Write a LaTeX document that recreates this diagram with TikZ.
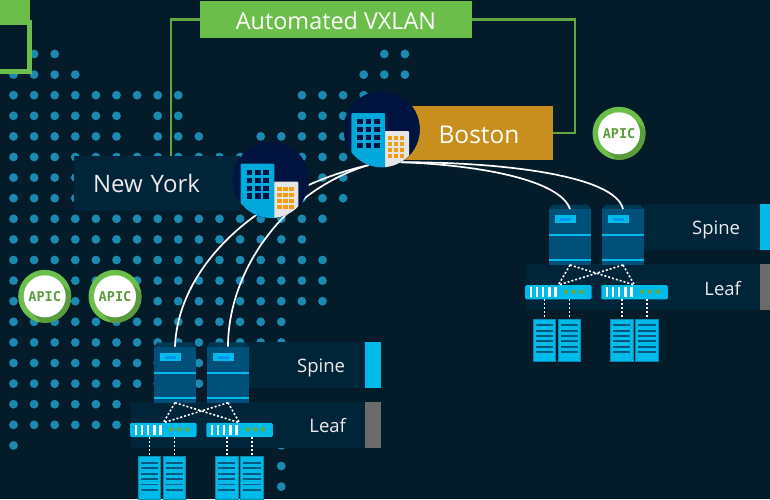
\documentclass[tikz,border=0pt]{standalone}
\usepackage{fontspec}
\setmainfont{Open Sans}
\newfontfamily\apicfont{DejaVu Sans Mono}
\usetikzlibrary{positioning}
\definecolor{bgdark}{HTML}{041C29}
\definecolor{mapdot}{HTML}{1A8AB0}
\definecolor{labeldark}{HTML}{012538}
\definecolor{vxlangreen}{HTML}{6CBE4B}
\definecolor{apicdark}{HTML}{5A9C3C}
\definecolor{bostongold}{HTML}{C98F1E}
\definecolor{sitenavy}{HTML}{01133F}
\definecolor{towerblue}{HTML}{00A8DB}
\definecolor{cyanbar}{HTML}{00BAE9}
\definecolor{spinefront}{HTML}{00507A}
\definecolor{spinetop}{HTML}{013A55}
\definecolor{stripedark}{HTML}{00587F}
\definecolor{windowgold}{HTML}{F09C14}

\begin{document}
\begin{tikzpicture}[x=1pt,y=-1pt]

        % Setup the styles
        \tikzset{labelbox/.style={fill=labeldark, text=white!92!black, inner sep=0pt, outer sep=0pt,
                                  font=\fontsize{18.5}{20}\selectfont},
                 titlebox/.style={fill=vxlangreen, text=white, inner sep=0pt, outer sep=0pt,
                                  minimum width=272pt, minimum height=37pt, text height=19pt, text depth=0pt,
                                  font=\fontsize{23.4}{26}\selectfont},
                 tapline/.style={draw=vxlangreen!88!black, line width=2.2pt},
                 sitenode/.style={circle, fill=sitenavy, minimum size=76pt, inner sep=0pt, outer sep=0pt},
                 spinenode/.style={fill=spinefront, minimum width=42pt, minimum height=56pt,
                                   inner sep=0pt, outer sep=0pt},
                 leafnode/.style={fill=cyanbar, rounded corners=1.5pt, minimum width=66.5pt,
                                  minimum height=14.3pt, inner sep=0pt, outer sep=0pt},
                 servernode/.style={fill=cyanbar, draw=cyanbar!75!black, line width=0.5pt,
                                    minimum width=22.4pt, minimum height=42.3pt, inner sep=0pt, outer sep=0pt},
                 wan/.style={draw=white, line width=1.7pt},
                 fabriclink/.style={draw=white, line width=1.6pt, dash pattern=on 2pt off 2pt},
                 apicring/.style={circle, fill=vxlangreen, minimum size=53pt, inner sep=0pt, outer sep=0pt},
                 apicdisc/.style={circle, fill=white, text=apicdark, minimum size=42pt, inner sep=0pt,
                                  font=\apicfont\bfseries\fontsize{13.5}{14}\selectfont}}

        \useasboundingbox (0,0) rectangle (770,499);
        \fill[bgdark] (0,0) rectangle (770,499);

        % Draw the map of dots
        \foreach \r/\from/\to in {-1/18/18, 0/1/2, 0/18/19, 1/0/3, 1/17/19, 2/0/8, 2/14/17, 3/0/5, 3/7/8, 3/14/17,
                                  4/0/5, 4/7/9, 4/12/17, 5/0/16, 6/0/16, 7/0/16, 8/0/15, 9/0/14, 10/0/15,
                                  11/0/15, 12/0/15, 13/0/13, 14/0/13, 15/0/13, 16/0/13, 17/0/5, 18/0/5,
                                  18/13/13, 19/0/0, 19/13/13, 20/13/13, 21/13/13}
            \foreach \k in {\from,...,\to}
                \fill[mapdot] ({13.5+20.6*\k},{54+20.6*\r}) circle (4.4pt);

        % The corner of the green frame
        \draw[vxlangreen, line width=5pt] (-5,22.5) rectangle (29.5,71.5);
        \fill[vxlangreen] (0,0) rectangle (30,24);

        % Draw the labels
        \node[labelbox, minimum width=166pt, minimum height=55pt, text width=128pt, align=left,
              text height=18.4pt, text depth=0pt,
              font=\fontsize{24}{28}\selectfont] at (157,183.5) (nylabel) {New York};
        \node[labelbox, fill=bostongold, text=white, minimum width=148pt, minimum height=54pt,
              text height=20pt, text depth=0pt,
              font=\fontsize{24.5}{28}\selectfont] at (479,133) (boslabel) {Boston};
        \node[titlebox] at (336,19.5) (vxlan) {Automated VXLAN};

        % Connect the title with the sites
        \coordinate (nytap) at (171,156);
        \coordinate (bosbend) at (575,133);
        \draw[tapline] (vxlan.west) -| (nytap);
        \draw[tapline] (vxlan.east) -| (bosbend) -- (boslabel.east);

        % Draw the two fabrics
        \foreach \site/\dx/\dy in {ny/0/0, bos/395/-137.7} {
            \begin{scope}[shift={(\dx,\dy)}]
                \node[labelbox, minimum width=116pt, minimum height=46pt, text width=76pt, align=right,
                      text height=14pt, text depth=0pt]
                    at (307,365) (\site spinelabel) {Spine};
                \node[labelbox, minimum width=234pt, minimum height=46pt, text width=196pt, align=right,
                      text height=15.4pt, text depth=0pt]
                    at (248,425) (\site leaflabel) {Leaf};
                \fill[cyanbar] (365,342) rectangle (381,388);
                \fill[black!58] (365,402) rectangle (381,448);

                \foreach \name/\x in {A/175, B/228} {
                    \fill[spinetop] (\x-21,346.7) -- (\x-17.5,342.3) -- (\x+17.5,342.3) -- (\x+21,346.7) -- cycle;
                    \node[spinenode] at (\x,374.7) (\site spine\name) {};
                    \fill[cyanbar] (\x-15,353) rectangle (\x+6,361);
                    \fill[cyanbar!80!blue] (\x-10,355.5) rectangle (\x+1,358.5);
                    \fill[cyanbar] (\x-21,371.5) rectangle (\x+21,373.5);
                    \fill[cyanbar] (\x-21,396.5) rectangle (\x+21,399);
                }

                \foreach \name/\x in {A/163.3, B/239.5} {
                    \node[leafnode] at (\x,429.9) (\site leaf\name) {};
                    \foreach \b in {-27.5,-21.5,-15.5,-9,-3}
                        \fill[white] (\x+\b-1.2,425) rectangle (\x+\b+1.2,434.5);
                    \foreach \b in {8,15.7,23.4}
                        \fill[vxlangreen!90!black] (\x+\b,429.4) circle (2.3pt);
                }

                \foreach \name/\x/\leaf in {A/149.5/leafA, B/174.5/leafA, C/226.7/leafB, D/251.8/leafB} {
                    \node[servernode] at (\x,477.8) (\site server\name) {};
                    \foreach \s in {0,...,5}
                        \fill[stripedark] (\x-8.7,{462.1+5.35*\s}) rectangle (\x+8.7,{464+5.35*\s});
                    \draw[fabriclink] (\site server\name.north |- \site\leaf.south) -- (\site server\name.north);
                }

                \draw[fabriclink] (\site spineA.south) -- (\site leafA.north);
                \draw[fabriclink] (\site spineA.south) -- (\site leafB.north);
                \draw[fabriclink] (\site spineB.south) -- (\site leafA.north);
                \draw[fabriclink] (\site spineB.south) -- (\site leafB.north);
            \end{scope}
        }

        % Draw the sites
        \node[sitenode] at (271,180) (nysite) {};
        \node[sitenode] at (381.7,129.3) (bossite) {};

        % Connect the sites with the spines
        \draw[wan] (nyspineA.north) .. controls (178,265) and (260,190) .. (bossite.-110);
        \draw[wan] (nyspineB.north) .. controls (228,270) and (285,190) .. (bossite.-110);
        \draw[wan] (bosspineA.north) .. controls (560,180) and (480,165) .. (bossite.-60);
        \draw[wan] (bosspineB.north) .. controls (615,175) and (500,162) .. (bossite.-60);

        \foreach \site in {nysite, bossite} {
            \fill[sitenavy] (\site.center) circle (38pt);
            \begin{scope}[shift={(\site.center)}]
                \clip (0,0) circle (38pt);
                \fill[black!10, rounded corners=1pt] (3,1.7) rectangle (27.3,45);
                \fill[towerblue, rounded corners=1pt] (-30.3,-16.3) rectangle (3.3,45);
                \foreach \i in {0,1,2}
                    \foreach \j in {0,1,2,3} {
                        \fill[sitenavy] ({-24.3+8.3*\i},{-10.3+7.9*\j}) rectangle ++(5.7,5.3);
                        \fill[windowgold] ({6.3+6*\i},{6.7+6*\j}) rectangle ++(4.3,4.3);
                    }
            \end{scope}
        }

        % Draw the controllers
        \foreach \apic/\x/\y in {apicA/44.7/296.3, apicB/115/296.3, apicC/619/133.3} {
            \node[apicring] at (\x,\y) (\apic ring) {};
            \begin{scope}
                \clip (\x,\y) circle (26.5pt);
                \fill[apicdark] (\x+14.85,\y-14.85) -- (\x+54.85,\y+25.15) -- (\x+25.15,\y+54.85) -- (\x-14.85,\y+14.85) -- cycle;
            \end{scope}
            \node[apicdisc] at (\x,\y) (\apic) {APIC};
        }

    \end{tikzpicture}
\end{document}
